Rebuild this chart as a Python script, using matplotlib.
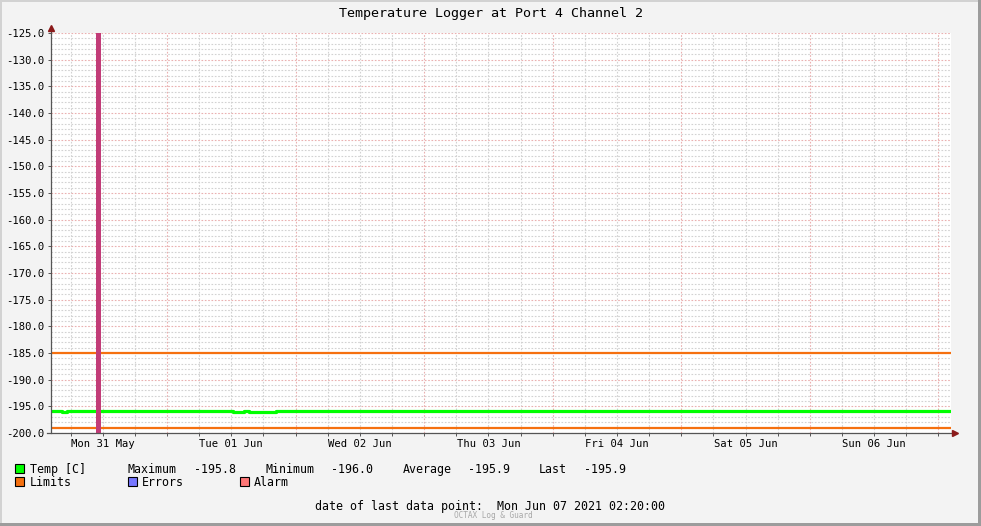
import datetime as dt
import matplotlib
matplotlib.use('Agg')
import matplotlib.pyplot as plt
import matplotlib.dates as mdates
from matplotlib.ticker import MultipleLocator, FuncFormatter, NullFormatter
from matplotlib.patches import Rectangle

# --- data ---
title = 'Temperature Logger at Port 4 Channel 2'
t_start = dt.datetime(2021, 5, 31, 2, 20)
t_end = dt.datetime(2021, 6, 7, 2, 20)

# hours after t_start; after ~45h the reading stays flat until the end
temp_hours = list(range(0, 46)) + [168]
temp_values = [-195.9, -195.9, -196.0, -195.9, -195.9, -195.9, -195.9, -195.9,
               -195.9, -195.9, -195.8, -195.9, -195.8, -195.9, -195.9, -195.8,
               -195.9, -195.8, -195.9, -195.8, -195.9, -195.8, -195.9, -195.8,
               -195.9, -195.8, -195.9, -195.8, -195.9, -195.8, -195.9, -195.8,
               -195.9, -195.8, -196.0, -196.0, -195.9, -196.0, -196.0, -196.0,
               -196.0, -196.0, -195.9, -195.9, -195.8, -195.9, -195.9]
limit_high = -185.0
limit_low = -199.0
alarm_start = dt.datetime(2021, 5, 31, 10, 45)
alarm_end = dt.datetime(2021, 5, 31, 11, 40)
y_min, y_max = -200.0, -125.0

stat_names = ['Maximum', 'Minimum', 'Average', 'Last']
stat_values = [-195.8, -196.0, -195.9, -195.9]
last_point = 'Mon Jun 07 2021 02:20:00'

c_temp = '#00ff00'
c_limit = '#f5700f'
c_err = '#7777ff'
c_alarm = '#ff7777'
c_bar = '#c23c78'
c_arrow = '#8b1a1a'

W, H = 981, 526
fig = plt.figure(figsize=(W / 100, H / 100), dpi=100, facecolor='#f3f3f3')
plt.rcParams['font.family'] = ['DejaVu Sans Mono']


def fx(x):
    return x / W


def fy(y):
    return 1 - y / H


ax = fig.add_axes([fx(51), fy(433), fx(951) - fx(51), fy(33) - fy(433)])
ax.set_facecolor('white')

times = [t_start + dt.timedelta(hours=h) for h in temp_hours]
ax.plot(times, temp_values, color=c_temp, lw=2.3, drawstyle='steps-post', zorder=3)
ax.axhline(limit_high, color=c_limit, lw=1.6, zorder=3)
ax.axhline(limit_low, color=c_limit, lw=1.6, zorder=3)
ax.axvspan(alarm_start, alarm_end, color=c_bar, lw=0, zorder=4)

ax.set_xlim(t_start, t_end)
ax.set_ylim(y_min, y_max)

# grid: red at midnight / every 5 deg, grey every 6h / 1 deg
ax.xaxis.set_major_locator(mdates.DayLocator())
ax.xaxis.set_minor_locator(mdates.HourLocator(byhour=[6, 12, 18]))
ax.xaxis.set_major_formatter(NullFormatter())


def noon_label(x, pos):
    d = mdates.num2date(x)
    return d.strftime('%a %d %b') if d.hour == 12 else ''


ax.xaxis.set_minor_formatter(FuncFormatter(noon_label))
ax.yaxis.set_major_locator(MultipleLocator(5))
ax.yaxis.set_minor_locator(MultipleLocator(1))
ax.yaxis.set_major_formatter(FuncFormatter(lambda v, p: '%.1f' % v))

ax.grid(which='major', color='#eab0b0', lw=0.8, ls=(0, (1.5, 1.5)), zorder=0)
ax.grid(which='minor', color='#d2d2d2', lw=0.8, ls=(0, (1.5, 1.5)), zorder=0)
ax.set_axisbelow(True)

ax.tick_params(which='both', length=2, width=0.7, color='#555555', labelsize=7.6)
ax.tick_params(axis='y', which='minor', length=0)
ax.tick_params(axis='y', which='major', pad=3)
ax.tick_params(axis='x', which='minor', pad=2)
for s in ax.spines.values():
    s.set_visible(False)

# axis lines with arrows
ax.plot([0, 0], [0, 1.012], transform=ax.transAxes, color='#555555', lw=0.9, clip_on=False, zorder=5)
ax.plot([-0.004, 1.004], [0, 0], transform=ax.transAxes, color='#555555', lw=0.9, clip_on=False, zorder=5)
ax.plot([0], [1.0125], transform=ax.transAxes, marker='^', ms=4.5, color=c_arrow, clip_on=False, zorder=6)
ax.plot([1.0045], [0], transform=ax.transAxes, marker='>', ms=4.5, color=c_arrow, clip_on=False, zorder=6)

fig.text(fx(491), fy(13), title, ha='center', va='center', fontsize=9.6)

# legend rows
def box(x, y, c):
    fig.patches.append(Rectangle((fx(x), fy(y + 9)), 9 / W, 9 / H, transform=fig.transFigure,
                                 facecolor=c, edgecolor='black', lw=0.8))


fs = 8.4
row1, row2 = 473, 486
box(15, 464, c_temp)
fig.text(fx(30), fy(row1), 'Temp [C]', va='baseline', fontsize=fs)
stat_x = [(128, 194), (266, 331), (403, 468), (539, 584)]
for (xn, xv), n, v in zip(stat_x, stat_names, stat_values):
    fig.text(fx(xn), fy(row1), n, va='baseline', fontsize=fs)
    fig.text(fx(xv), fy(row1), '%.1f' % v, va='baseline', fontsize=fs)
box(15, 477, c_limit)
fig.text(fx(30), fy(row2), 'Limits', va='baseline', fontsize=fs)
box(128, 477, c_err)
fig.text(fx(142), fy(row2), 'Errors', va='baseline', fontsize=fs)
box(240, 477, c_alarm)
fig.text(fx(254), fy(row2), 'Alarm', va='baseline', fontsize=fs)

fig.text(fx(315), fy(510), 'date of last data point:  ' + last_point, va='baseline', fontsize=fs)
fig.text(fx(493), fy(516), 'OCTAX Log & Guard', ha='center', va='center', fontsize=5.6, color='#a8a8a8')

# 3d-ish frame
for (x, y, w, h, c) in [(0, 0, W, 2, '#d2d2d2'), (0, 0, 2, H, '#d2d2d2'),
                        (W - 3, 0, 3, H, '#9c9c9c'), (0, H - 3, W, 3, '#9c9c9c')]:
    fig.patches.append(Rectangle((fx(x), fy(y + h)), w / W, h / H, transform=fig.transFigure,
                                 facecolor=c, edgecolor='none'))

fig.savefig('out.png', dpi=100, facecolor=fig.get_facecolor())
